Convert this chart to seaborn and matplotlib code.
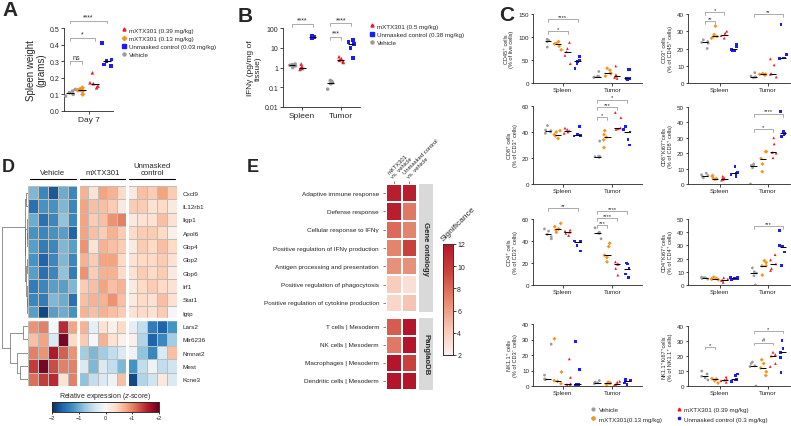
import numpy as np
import pandas as pd
import matplotlib
matplotlib.use('Agg')
import matplotlib.pyplot as plt
import seaborn as sns
from matplotlib.lines import Line2D
from matplotlib.colors import LinearSegmentedColormap
import matplotlib.transforms as mtrans

sns.set_theme(style='ticks')
plt.rcParams['font.family'] = ['Liberation Sans', 'DejaVu Sans']
plt.rcParams['axes.linewidth'] = 0.6
plt.rcParams['xtick.major.width'] = 0.6
plt.rcParams['ytick.major.width'] = 0.6
plt.rcParams['xtick.major.size'] = 2
plt.rcParams['ytick.major.size'] = 2
plt.rcParams['xtick.major.pad'] = 1.5
plt.rcParams['ytick.major.pad'] = 1.5
np.random.seed(7)

# ---------------- colours / markers ----------------
GRAY, ORANGE, RED, BLUE = '#9b9b9b', '#f7941d', '#ec1c24', '#1c1cf5'

# ---------------- Panel A data ----------------
A_GROUPS = ['Vehicle', 'mXTX301 (0.13 mg/kg)', 'mXTX301 (0.39 mg/kg)', 'Unmasked control (0.03 mg/kg)']
A_vehicle = [0.09, 0.10, 0.11, 0.12, 0.13]
A_low = [0.10, 0.12, 0.125, 0.13, 0.14]
A_high = [0.14, 0.15, 0.165, 0.17, 0.23]
A_unmasked = [0.27, 0.28, 0.30, 0.31, 0.41]

# ---------------- Panel B data ----------------
B_GROUPS = ['Vehicle', 'mXTX301 (0.5 mg/kg)', 'Unmasked control (0.38 mg/kg)']
B_spleen = [[1.0, 1.2, 1.3, 1.4, 1.5], [0.8, 0.9, 1.0, 1.1, 1.5], [30, 32, 35, 38, 40]]
B_tumor = [[0.08, 0.15, 0.17, 0.2, 0.22], [1.8, 2.0, 2.3, 2.8, 3.5], [3, 10, 15, 20, 25]]

# ---------------- Panel C data ----------------
C_GROUPS = ['Vehicle', 'mXTX301(0.13 mg/kg)', 'mXTX301 (0.39 mg/kg)', 'Unmasked control (0.3 mg/kg)']
TISSUES = ['Spleen', 'Tumor']
cd45_spleen = [[78, 90, 92, 93, 95], [72, 80, 85, 86, 90], [42, 60, 68, 75, 88], [32, 42, 47, 50, 58]]
cd45_tumor = [[12, 13, 14, 15, 25], [15, 20, 22, 28, 32], [10, 12, 15, 18, 37], [8, 9, 10, 30, 30]]
cd3_spleen = [[20, 23, 23.5, 24, 25], [26, 27, 27, 28, 33], [26, 27.5, 28, 29, 30], [18.5, 19, 19.5, 21, 22.5]]
cd3_tumor = [[3, 3.5, 3.5, 4, 6], [4.5, 5, 5, 5, 5.5], [3.5, 5, 5.5, 10.5, 14], [14, 14.5, 14.5, 16.5, 34]]
cd8_spleen = [[39, 40, 41, 41.5, 45], [35, 37, 38, 40, 41], [39, 40, 41, 42, 43], [37, 37.5, 37.5, 38.5, 44]]
cd8_tumor = [[20.5, 21, 21, 21.5, 33], [28, 34, 36, 38, 41], [42, 42.5, 43, 51, 55], [30, 34, 40, 42, 44]]
cd8ki_spleen = [[4, 5, 5.5, 6, 7], [3, 3.5, 3.5, 5, 5.5], [2.5, 3, 3.5, 4, 5], [5, 6, 7, 7.5, 11.5]]
cd8ki_tumor = [[0, 10.5, 12, 12, 13], [8, 13, 16.5, 21, 21], [17, 20, 20.5, 26, 30], [31, 32, 33, 34, 47]]
cd4_spleen = [[42, 44, 46, 49, 51], [48, 50, 51, 53, 56], [45, 47, 48, 49, 50], [31, 36, 39.5, 40, 40]]
cd4_tumor = [[42, 47, 47, 48, 52], [21, 25, 27, 35, 38], [9, 15, 19, 19, 21], [7, 10, 15, 19, 20]]
cd4ki_spleen = [[4.5, 5, 5.5, 5.5, 6], [4, 4.5, 4.5, 5, 6], [2, 3.5, 3.5, 4.5, 5.5], [4, 4.5, 5, 5.5, 6]]
cd4ki_tumor = [[0, 7, 9, 10, 13], [7.5, 14.5, 14.5, 17, 18.5], [11, 12.5, 16, 19, 23], [14.5, 25, 29, 30, 41.5]]
nk_spleen = [[4, 4.5, 4.5, 7, 27], [1.5, 3, 3.5, 9, 30.5], [1, 1, 1.5, 5.5, 17.5], [0.5, 1, 1.2, 10.5, 28.5]]
nk_tumor = [[1.5, 2, 2, 2.5, 3.5], [1, 1.5, 1.8, 2, 2.5], [0.5, 1, 1.5, 2.5, 3], [1, 2, 3, 3.5, 4]]
nkki_spleen = [[4, 5.5, 6.5, 8, 10], [2, 3.5, 4.5, 4.5, 5], [2.5, 3.5, 4, 4.5, 6], [3, 4, 4.5, 7, 8]]
nkki_tumor = [[0, 13, 13.5, 15, 16], [7, 9.5, 12, 15, 17.5], [13, 15, 20, 21, 22.5], [9, 19, 22.5, 25, 30.5]]

# ---------------- Panel D data ----------------
D_GENES = ['Cxcl9', 'IL12rb1', 'Iigp1', 'Apol6', 'Gbp4', 'Gbp2', 'Gbp6', 'Irf1', 'Stat1', 'Igtp',
           'Lars2', 'Mir6236', 'Nmnat2', 'Mest', 'Kcne3']
D_vehicle = [[-0.9, -1.3, -1.7, -1.0, -1.3], [-1.5, -1.2, -1.2, -0.9, -1.3], [-1.0, -1.5, -1.3, -0.8, -1.3],
             [-1.2, -1.3, -1.2, -1.1, -1.6], [-1.1, -1.4, -1.3, -0.9, -1.1], [-1.2, -1.6, -1.3, -0.9, -1.3],
             [-1.1, -1.5, -1.3, -0.8, -1.4], [-1.4, -1.3, -1.1, -1.1, -0.9], [-1.3, -1.4, -0.9, -1.0, -1.5],
             [-1.1, -1.8, -1.1, -1.0, -1.2], [0.9, 1.0, 0.0, 1.5, 0.8], [0.6, 0.8, -0.3, 1.9, 0.4],
             [1.0, 0.9, 1.6, 1.2, 0.9], [1.4, 1.9, 1.3, 1.0, 1.0], [1.1, 1.4, 1.5, 0.3, 1.0]]
D_mxtx = [[0.7, 0.3, 0.8, 0.7, 0.4], [0.8, 0.6, 0.6, 0.5, 0.2], [0.8, 0.5, 0.6, 0.9, 1.0],
          [0.8, 0.6, 0.5, 0.7, 0.5], [0.9, 0.3, 0.7, 0.6, 0.5], [0.7, 0.5, 0.8, 0.8, 0.4],
          [0.9, 0.5, 0.7, 0.7, 0.4], [0.5, 0.6, 0.8, 0.6, 0.7], [0.6, 0.7, 0.7, 0.9, 0.6],
          [0.7, 0.6, 0.7, 0.6, 0.5], [0.7, -0.2, 0.3, 0.1, 0.4], [0.5, 0.0, 0.7, 0.3, 0.1],
          [-0.7, -0.9, -0.7, -0.5, -0.3], [-0.3, -0.9, -0.3, -0.5, -0.9], [-0.8, -0.5, -0.3, -0.1, 0.6]]
D_unmasked = [[0.2, 0.6, 0.5, 0.8, 0.5], [0.5, 0.5, 0.3, 0.4, 0.2], [0.2, 0.3, 0.3, 0.6, 0.3],
              [0.4, 0.5, 0.5, 0.4, 0.1], [0.2, 0.5, 0.4, 0.6, 0.4], [0.3, 0.4, 0.4, 0.5, 0.3],
              [0.3, 0.5, 0.4, 0.5, 0.2], [0.2, 0.4, 0.5, 0.4, 0.3], [0.2, 0.4, 0.3, 0.6, 0.3],
              [0.3, 0.4, 0.3, 0.5, 0.0], [-0.2, -0.5, -1.4, -1.6, -1.2], [0.1, -0.6, -1.6, -1.3, -0.7],
              [-0.1, -0.8, -1.3, -0.3, 0.6], [-1.2, -0.5, -0.1, -0.5, -0.4], [-1.8, -0.6, -0.4, 0.2, -0.3]]
D_GROUP_LABELS = ['Vehicle', 'mXTX301', 'Unmasked\ncontrol']
# dendrogram: (height, left, right), leaves are row indices
D_TREE = (1.0,
          (0.12, (0.06, 0, 1), (0.10, (0.05, 2, (0.03, 3, 4)), (0.08, (0.04, 5, 6), (0.05, 7, (0.03, 8, 9))))),
          (0.67, (0.19, 10, 11), (0.41, 12, (0.30, 13, 14))))

# ---------------- Panel E data ----------------
E_GO_TERMS = ['Adaptive immune response', 'Defense response', 'Cellular response to IFN\u03b3',
              'Positive regulation of IFN\u03b3 production', 'Antigen processing and presentation',
              'Positive regulation of phagocytosis', 'Positive regulation of cytokine production']
E_GO_MXTX = [11.5, 11.5, 8.0, 7.0, 6.5, 4.0, 3.5]
E_GO_UNMASKED = [11.5, 7.5, 7.0, 9.5, 6.5, 3.0, 4.5]
E_PG_TERMS = ['T cells | Mesoderm', 'NK cells | Mesoderm', 'Macrophages | Mesoderm', 'Dendritic cells | Mesoderm']
E_PG_MXTX = [8.5, 7.5, 12.0, 12.0]
E_PG_UNMASKED = [12.0, 12.0, 9.5, 12.0]
E_COLS = ['mXTX301\nvs. vehicle', 'Unmasked control\nvs. vehicle']

# ---------------- helpers ----------------
W, H = 791, 427
fig = plt.figure(figsize=(W / 100, H / 100), dpi=100)


def px_axes(l, t, r, b):
    return fig.add_axes([l / W, 1 - b / H, (r - l) / W, (b - t) / H])


def long_df(groups, tissues, per_tissue):
    rows = []
    for t, vals in zip(tissues, per_tissue):
        for g, v in zip(groups, vals):
            for x in v:
                rows.append((t, g, x))
    return pd.DataFrame(rows, columns=['tissue', 'group', 'value'])


def dotplot(ax, df, groups, order, palette, markers, size, jitter=0.28, log=False, mw=0.8):
    for g in groups:
        sub = df[df.group == g]
        sns.stripplot(data=sub, x='tissue', y='value', hue='group', order=order, hue_order=groups,
                      palette=palette, dodge=True, jitter=jitter, marker=markers[g], size=size,
                      linewidth=0, ax=ax, legend=False, zorder=3, log_scale=log or None)
    sns.boxplot(data=df, x='tissue', y='value', hue='group', order=order, hue_order=groups,
                dodge=True, width=0.8, gap=0.35, showbox=False, showcaps=False, showfliers=False,
                whiskerprops={'visible': False}, medianprops={'color': 'black', 'lw': mw},
                ax=ax, legend=False, zorder=4, log_scale=log or None)
    sns.despine(ax=ax)
    ax.set_xlabel('')


def hue_x(tissue_idx, g_idx, n):
    return tissue_idx + (g_idx - (n - 1) / 2) * 0.8 / n


def bracket(ax, x1, x2, y, label, fs=4.5, tick=0.035):
    ya = ax.transAxes.inverted().transform(ax.transData.transform((0, y)))[1]
    tr = mtrans.blended_transform_factory(ax.transData, ax.transAxes)
    ax.plot([x1, x1, x2, x2], [ya - tick, ya, ya, ya - tick], color='#8a8a8a', lw=0.5,
            transform=tr, clip_on=False)
    ax.text((x1 + x2) / 2, ya + 0.005, label, ha='center', va='bottom', fontsize=fs,
            transform=tr, clip_on=False)


# ---------------- Panel A ----------------
A_MARK = dict(zip(A_GROUPS, ['o', 'D', '^', 's']))
A_PAL = dict(zip(A_GROUPS, [GRAY, ORANGE, RED, BLUE]))
dfA = long_df(A_GROUPS, ['Day 7'], [[A_vehicle, A_low, A_high, A_unmasked]])
axA = px_axes(64, 29, 113, 112)
dotplot(axA, dfA, A_GROUPS, ['Day 7'], A_PAL, A_MARK, 2.6, jitter=0.35)
axA.set_xlim(-0.4, 0.4)
axA.set_ylim(0, 0.5)
axA.set_yticks([0, 0.1, 0.2, 0.3, 0.4, 0.5])
axA.set_yticklabels(['0.0', '0.1', '0.2', '0.3', '0.4', '0.5'])
axA.tick_params(axis='y', labelsize=5)
axA.tick_params(axis='x', labelsize=6)
axA.set_ylabel('Spleen weight\n(grams)', fontsize=7, labelpad=2, linespacing=1.1)
bracket(axA, hue_x(0, 0, 4), hue_x(0, 1, 4), 0.30, 'ns', fs=5)
bracket(axA, hue_x(0, 0, 4), hue_x(0, 2, 4), 0.44, '*', fs=5)
bracket(axA, hue_x(0, 0, 4), hue_x(0, 3, 4), 0.545, '****', fs=5)
handlesA = [Line2D([], [], ls='none', marker=A_MARK[g], color=A_PAL[g], markersize=2.2) for g in
            [A_GROUPS[2], A_GROUPS[1], A_GROUPS[3], A_GROUPS[0]]]
fig.legend(handlesA, [A_GROUPS[2], A_GROUPS[1], A_GROUPS[3], A_GROUPS[0]], loc='upper left',
           bbox_to_anchor=(118 / W, 1 - 25 / H), frameon=False, fontsize=4.5,
           handletextpad=0.3, labelspacing=0.45, handlelength=1.0, borderpad=0)

# ---------------- Panel B ----------------
B_MARK = dict(zip(B_GROUPS, ['o', '^', 's']))
B_PAL = dict(zip(B_GROUPS, [GRAY, RED, BLUE]))
dfB = long_df(B_GROUPS, TISSUES, [B_spleen, B_tumor])
axB = px_axes(283, 29, 360, 108)
dotplot(axB, dfB, B_GROUPS, TISSUES, B_PAL, B_MARK, 2.6, jitter=0.3, log=True)
axB.set_ylim(0.01, 100)
axB.set_xlim(-0.5, 1.5)
axB.set_yticks([0.01, 0.1, 1, 10, 100])
axB.set_yticklabels(['0.01', '0.1', '1', '10', '100'])
axB.minorticks_off()
axB.tick_params(axis='y', labelsize=5)
axB.tick_params(axis='x', labelsize=6)
axB.set_ylabel('IFN\u03b3 (pg/mg of\ntissue)', fontsize=6, labelpad=2, linespacing=1.1)
bracket(axB, hue_x(0, 0, 3), hue_x(0, 2, 3), 160, '****', fs=5)
bracket(axB, hue_x(1, 0, 3), hue_x(1, 1, 3), 35, '***', fs=5)
bracket(axB, hue_x(1, 0, 3), hue_x(1, 2, 3), 170, '****', fs=5)
handlesB = [Line2D([], [], ls='none', marker=B_MARK[g], color=B_PAL[g], markersize=2.2) for g in
            [B_GROUPS[1], B_GROUPS[2], B_GROUPS[0]]]
fig.legend(handlesB, [B_GROUPS[1], B_GROUPS[2], B_GROUPS[0]], loc='upper left',
           bbox_to_anchor=(366 / W, 1 - 21 / H), frameon=False, fontsize=4.5,
           handletextpad=0.3, labelspacing=0.45, handlelength=1.0, borderpad=0)

# ---------------- Panel C ----------------
C_MARK = dict(zip(C_GROUPS, ['o', 'D', '^', 's']))
C_PAL = dict(zip(C_GROUPS, [GRAY, ORANGE, RED, BLUE]))
C_PANELS = [
    (cd45_spleen, cd45_tumor, (533, 15, 642, 84), 150, [0, 50, 100, 150], 'CD45\u207a cells\n(% of live cells)',
     [(0, 2, 113, '*'), (0, 3, 139, '****')], (-0.6, 1.6)),
    (cd3_spleen, cd3_tumor, (688, 15, 790, 84), 40, [0, 10, 20, 30, 40], 'CD3\u207a cells\n(% of CD45\u207a cells)',
     [(0, 1, 36, '**'), (0, 2, 41, '*'), (1, 3, 40, '**')], (-0.65, 1.45)),
    (cd8_spleen, cd8_tumor, (533, 107, 642, 185), 60, [0, 20, 40, 60], 'CD8\u207a cells\n(% of CD3\u207a cells)',
     [(1, 1, 51.5, '*'), (1, 2, 59, '***'), (1, 3, 65, '*')], (-0.6, 1.6)),
    (cd8ki_spleen, cd8ki_tumor, (688, 108, 790, 185), 50, [0, 10, 20, 30, 40, 50],
     'CD8\u207aKi67\u207acells\n(% of CD8\u207a cells)', [(1, 2, 35.7, '*'), (1, 3, 45.5, '****')], (-0.65, 1.45)),
    (cd4_spleen, cd4_tumor, (533, 220, 642, 286), 60, [0, 20, 40, 60], 'CD4\u207a cells\n(% of CD3\u207a cells)',
     [(0, 3, 70, '**'), (1, 1, 54.5, '***'), (1, 2, 61, '****'), (1, 3, 67, '****')], (-0.6, 1.6)),
    (cd4ki_spleen, cd4ki_tumor, (688, 220, 790, 286), 50, [0, 10, 20, 30, 40, 50],
     'CD4\u207aKi67\u207acells\n(% of CD4\u207a cells)', [(1, 3, 44.7, '***')], (-0.65, 1.45)),
    (nk_spleen, nk_tumor, (533, 325, 642, 387), 40, [0, 10, 20, 30, 40], 'NK1.1\u207a cells\n(% of CD3\u207b cells)',
     [], (-0.6, 1.6)),
    (nkki_spleen, nkki_tumor, (688, 327, 790, 387), 40, [0, 10, 20, 30, 40],
     'NK1.1\u207aKi67\u207acells\n(% of NK1.1\u207a cells)', [(0, 1, 26, '*'), (1, 2, 29, '#'), (1, 3, 36.7, '*')],
     (-0.65, 1.45)),
]
for sp, tu, box, ymax, ticks, ylab, brs, xl in C_PANELS:
    ax = px_axes(*box)
    dfc = long_df(C_GROUPS, TISSUES, [sp, tu])
    dotplot(ax, dfc, C_GROUPS, TISSUES, C_PAL, C_MARK, 2.0, jitter=0.3, mw=0.7)
    ax.set_ylim(0, ymax)
    ax.set_xlim(*xl)
    ax.set_yticks(ticks)
    ax.tick_params(axis='both', labelsize=4.5, length=1.8, pad=1)
    ax.set_ylabel(ylab, fontsize=4, labelpad=3, linespacing=1.2)
    for ti, gi, yv, lab in brs:
        bracket(ax, hue_x(ti, 0, 4), hue_x(ti, gi, 4), yv, lab, fs=4.2, tick=0.04)

handlesC = [Line2D([], [], ls='none', marker=C_MARK[g], color=C_PAL[g], markersize=2.0) for g in C_GROUPS]
fig.legend(handlesC, C_GROUPS, loc='upper left', ncol=2, bbox_to_anchor=(587 / W, 1 - 405 / H),
           frameon=False, fontsize=4.5, handletextpad=0.4, labelspacing=0.6, handlelength=1.0,
           columnspacing=2.2, borderpad=0)

# ---------------- Panel D ----------------
matD = pd.DataFrame(np.hstack([np.array(D_vehicle), np.array(D_mxtx), np.array(D_unmasked)]), index=D_GENES)
axD = px_axes(28, 187, 177, 387)
caxD = px_axes(52, 403, 159, 413)
sns.heatmap(matD, cmap='RdBu_r', vmin=-2, vmax=2, linewidths=0.4, linecolor='#bdbdbd', ax=axD,
            cbar_ax=caxD, cbar_kws={'orientation': 'horizontal', 'ticks': [-2, -1, 0, 1, 2]},
            xticklabels=False, yticklabels=True)
for xv in [5, 10]:
    axD.axvline(xv, color='white', lw=2.2)
axD.axhline(10, color='white', lw=2.5)
axD.yaxis.tick_right()
axD.set_yticks(np.arange(len(D_GENES)) + 0.5)
axD.set_yticklabels(D_GENES, rotation=0, fontsize=4.6)
axD.tick_params(axis='y', length=0, pad=4)
axD.set_xlabel('')
axD.set_ylabel('')
for i, lab in enumerate(D_GROUP_LABELS):
    x0, x1 = i * 5 + 0.2, i * 5 + 4.8
    axD.plot([x0, x1], [-0.55, -0.55], color='black', lw=0.8, clip_on=False)
    axD.text(i * 5 + 2.5, -0.75, lab, ha='center', va='bottom', fontsize=5.6, linespacing=1.05)
caxD.set_xticks([-2, -1, 0, 1, 2])
caxD.set_xticklabels(['\u22122', '\u22121', '0', '+1', '+2'])
caxD.tick_params(labelsize=4, length=1.5, pad=1)
for s in caxD.spines.values():
    s.set_visible(True)
    s.set_linewidth(0.5)
fig.text(105 / W, 1 - 397 / H, 'Relative expression ($\\it{z}$-score)', ha='center', va='center', fontsize=5)

axT = px_axes(0, 187, 28, 387)


def draw_tree(ax, node):
    if isinstance(node, int):
        return node + 0.5, 0.0
    h, a, b = node
    ya, ha = draw_tree(ax, a)
    yb, hb = draw_tree(ax, b)
    ax.plot([ha, h, h, hb], [ya, ya, yb, yb], color='#666666', lw=0.5)
    return (ya + yb) / 2, h


draw_tree(axT, D_TREE)
axT.set_xlim(1.06, 0)
axT.set_ylim(15, 0)
axT.axis('off')

# ---------------- Panel E ----------------
e_cmap = LinearSegmentedColormap.from_list('sig', ['#fbf1ee', '#f6c4b2', '#e5856c', '#c9423d', '#b3162b'])
goE = pd.DataFrame({E_COLS[0]: E_GO_MXTX, E_COLS[1]: E_GO_UNMASKED}, index=E_GO_TERMS)
pgE = pd.DataFrame({E_COLS[0]: E_PG_MXTX, E_COLS[1]: E_PG_UNMASKED}, index=E_PG_TERMS)
axE1 = px_axes(386, 185, 417, 313)
axE2 = px_axes(386, 319, 417, 391)
caxE = px_axes(443, 245, 453, 356)
sns.heatmap(goE, cmap=e_cmap, vmin=2, vmax=12, linewidths=1.3, linecolor='white', ax=axE1,
            cbar_ax=caxE, cbar_kws={'ticks': [2, 4, 6, 8, 10, 12]}, xticklabels=True, yticklabels=True)
sns.heatmap(pgE, cmap=e_cmap, vmin=2, vmax=12, linewidths=1.3, linecolor='white', ax=axE2, cbar=False,
            xticklabels=False, yticklabels=True)
for ax, terms in ((axE1, E_GO_TERMS), (axE2, E_PG_TERMS)):
    ax.set_yticks(np.arange(len(terms)) + 0.5)
    ax.set_yticklabels(terms, rotation=0)
    ax.tick_params(axis='y', length=2, width=0.5, pad=3, labelsize=4.6, color='#555555')
    ax.set_xlabel('')
    ax.set_ylabel('')
axE1.xaxis.tick_top()
axE1.set_xticks([0.5, 1.5])
axE1.set_xticklabels(E_COLS, rotation=45, ha='left', rotation_mode='anchor', fontsize=4.2,
                     linespacing=1.0)
axE1.tick_params(axis='x', length=2, width=0.5, pad=2, color='#555555')
axE2.tick_params(axis='x', length=0)
caxE.tick_params(labelsize=5, length=2, pad=1)
for s in caxE.spines.values():
    s.set_visible(True)
    s.set_linewidth(0.6)
    s.set_color('#333333')
fig.text(458 / W, 1 - 224 / H, 'Significance', rotation=45, ha='center', va='center', fontsize=6)
for (t, b, lab) in [(185, 313, 'Gene ontology'), (319, 391, 'PanglaoDB')]:
    s_ax = px_axes(419, t, 433, b)
    s_ax.set_facecolor('#d9d9d9')
    s_ax.set_xticks([])
    s_ax.set_yticks([])
    for sp in s_ax.spines.values():
        sp.set_visible(False)
    s_ax.text(0.5, 0.5, lab, rotation=270, ha='center', va='center', fontsize=5.6, fontweight='bold',
              transform=s_ax.transAxes)

# ---------------- panel letters ----------------
for lab, x, y, fs in [('A', 2, 1, 15), ('B', 238, 7, 15), ('C', 499, 6, 15), ('D', 2, 159, 13), ('E', 247, 159, 13)]:
    fig.text(x / W, 1 - y / H, lab, fontsize=fs, fontweight='bold', ha='left', va='top')

fig.savefig('out.png', dpi=100)
